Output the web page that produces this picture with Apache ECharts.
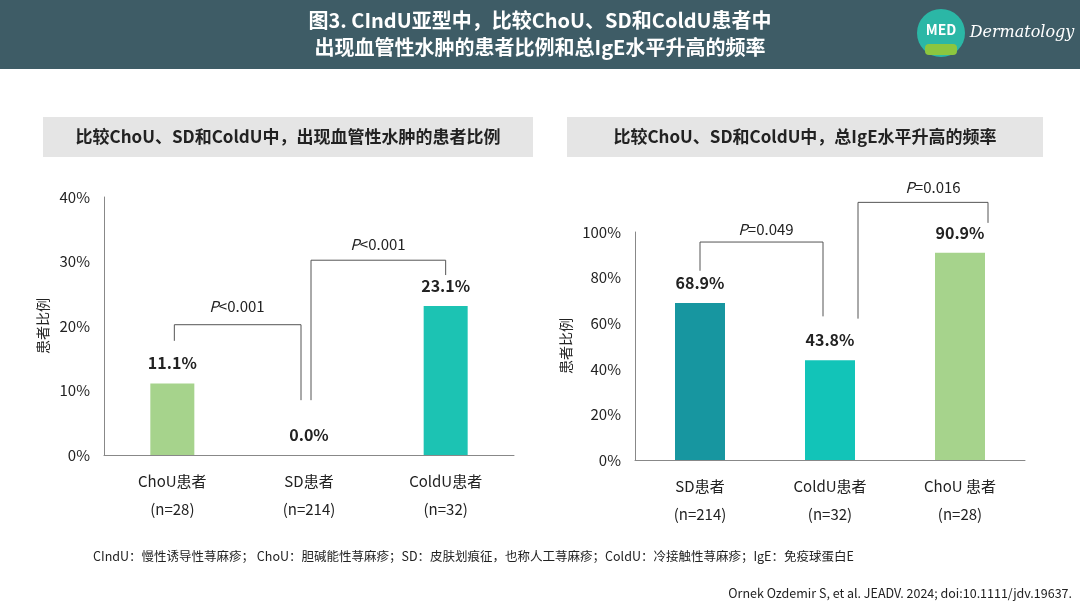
<!DOCTYPE html><html><head><meta charset="utf-8">
<script src="https://cdn.jsdelivr.net/npm/echarts@6/dist/echarts.min.js"></script>
<style>html,body{margin:0;padding:0;background:#fff}#c{width:1080px;height:608px}</style></head><body><div id="c"></div>
<script>
const leftCats=['ChoU患者\n(n=28)','SD患者\n(n=214)','ColdU患者\n(n=32)'];
const leftVals=[11.1,0.0,23.1];
const leftColors=['#a6d38c','#a6d38c','#1cc3b3'];
const rightCats=['SD患者\n(n=214)','ColdU患者\n(n=32)','ChoU 患者\n(n=28)'];
const rightVals=[68.9,43.8,90.9];
const rightColors=['#1796a0','#12c4b8','#a6d38c'];
// brackets: points [categoryIndex, value, pixelOffsetX]
const leftBrackets=[
 [[0,17.7,2],[0,20.2,2],[1,20.2,-8],[1,8.5,-8]],
 [[1,8.5,2],[1,30.2,2],[2,30.2,0],[2,27.9,0]]
];
const rightBrackets=[
 [[0,83,0],[0,95.6,0],[1,95.6,-7],[1,63,-7]],
 [[1,62,28],[1,113,28],[2,113,28],[2,104,28]]
];
const ff='"Noto Sans CJK SC","Noto Sans",sans-serif';
function bracketSeries(data,xi){
 return {type:'custom',xAxisIndex:xi,yAxisIndex:xi,clip:false,silent:true,z:5,
  data:data.map((b,i)=>i),
  renderItem:(p,api)=>{const b=data[api.value(0)];
   const pts=b.map(q=>{const c=api.coord([q[0],q[1]]);return [c[0]+q[2],c[1]];});
   return {type:'polyline',shape:{points:pts},style:{stroke:'#555',lineWidth:1,fill:null}};},
  encode:{x:0,y:0}};
}
const axisLab={fontSize:15,color:'#222',fontFamily:ff,lineHeight:28};
const chart=echarts.init(document.getElementById('c'));
chart.setOption({
 animation:false,
 grid:[{left:104,top:197,width:410,height:258},{left:635,top:232,width:390,height:228}],
 xAxis:[
  {gridIndex:0,type:'category',data:leftCats,axisTick:{show:false},axisLine:{lineStyle:{color:'#888'}},axisLabel:Object.assign({margin:12},axisLab)},
  {gridIndex:1,type:'category',data:rightCats,axisTick:{show:false},axisLine:{lineStyle:{color:'#888'}},axisLabel:Object.assign({margin:12},axisLab)}
 ],
 yAxis:[
  {gridIndex:0,type:'value',min:0,max:40,interval:10,splitLine:{show:false},axisLine:{show:true,lineStyle:{color:'#888'}},axisTick:{show:false},
   axisLabel:{formatter:'{value}%',fontSize:15,color:'#222',fontFamily:ff,margin:14},
   name:'患者比例',nameLocation:'middle',nameGap:54,nameTextStyle:{fontSize:14,color:'#222',fontFamily:ff}},
  {gridIndex:1,type:'value',min:0,max:100,interval:20,splitLine:{show:false},axisLine:{show:true,lineStyle:{color:'#888'}},axisTick:{show:false},
   axisLabel:{formatter:'{value}%',fontSize:15,color:'#222',fontFamily:ff,margin:14},
   name:'患者比例',nameLocation:'middle',nameGap:62,nameTextStyle:{fontSize:14,color:'#222',fontFamily:ff}}
 ],
 series:[
  {type:'bar',xAxisIndex:0,yAxisIndex:0,barWidth:44,
   data:leftVals.map((v,i)=>({value:v,itemStyle:{color:leftColors[i]}})),
   label:{show:true,position:'top',distance:12,formatter:p=>Number(p.value).toFixed(1)+'%',fontSize:16,fontWeight:'bold',color:'#222',fontFamily:ff}},
  {type:'bar',xAxisIndex:1,yAxisIndex:1,barWidth:50,
   data:rightVals.map((v,i)=>({value:v,itemStyle:{color:rightColors[i]}})),
   label:{show:true,position:'top',distance:12,formatter:p=>Number(p.value).toFixed(1)+'%',fontSize:16,fontWeight:'bold',color:'#222',fontFamily:ff}},
  bracketSeries(leftBrackets,0),
  bracketSeries(rightBrackets,1)
 ],
 graphic:[
  {type:'rect',shape:{x:0,y:0,width:1080,height:69},style:{fill:'#3e5c66'}},
  {type:'text',x:540,y:20,style:{text:'图3. CIndU亚型中，比较ChoU、SD和ColdU患者中',fill:'#fff',font:'bold 20px '+ff,align:'center',verticalAlign:'middle'}},
  {type:'text',x:540,y:47,style:{text:'出现血管性水肿的患者比例和总IgE水平升高的频率',fill:'#fff',font:'bold 20px '+ff,align:'center',verticalAlign:'middle'}},
  {type:'circle',shape:{cx:941,cy:33,r:24},style:{fill:'#2bb7a6'}},
  {type:'rect',shape:{x:925,y:44,width:32,height:11,r:4},style:{fill:'#8cc63f'}},
  {type:'text',x:941,y:30,style:{text:'MED',fill:'#fff',font:'bold 14px '+ff,align:'center',verticalAlign:'middle'}},
  {type:'text',x:1022,y:33,style:{text:'Dermatology',fill:'#fff',font:'italic 16px "DejaVu Serif",serif',align:'center',verticalAlign:'middle'}},
  {type:'rect',shape:{x:43,y:117,width:490,height:40},style:{fill:'#e5e5e5'}},
  {type:'text',x:288,y:137,style:{text:'比较ChoU、SD和ColdU中，出现血管性水肿的患者比例',fill:'#222',font:'bold 17px '+ff,align:'center',verticalAlign:'middle'}},
  {type:'rect',shape:{x:567,y:117,width:476,height:40},style:{fill:'#e5e5e5'}},
  {type:'text',x:805,y:137,style:{text:'比较ChoU、SD和ColdU中，总IgE水平升高的频率',fill:'#222',font:'bold 17px '+ff,align:'center',verticalAlign:'middle'}},
  {type:'text',x:237,y:306,style:{text:'{i|P}<0.001',rich:{i:{fontStyle:'italic',fontSize:15,fontFamily:ff,fill:'#222'}},fill:'#222',font:'15px '+ff,align:'center',verticalAlign:'middle'}},
  {type:'text',x:378,y:244,style:{text:'{i|P}<0.001',rich:{i:{fontStyle:'italic',fontSize:15,fontFamily:ff,fill:'#222'}},fill:'#222',font:'15px '+ff,align:'center',verticalAlign:'middle'}},
  {type:'text',x:766,y:229,style:{text:'{i|P}=0.049',rich:{i:{fontStyle:'italic',fontSize:15,fontFamily:ff,fill:'#222'}},fill:'#222',font:'15px '+ff,align:'center',verticalAlign:'middle'}},
  {type:'text',x:933,y:187,style:{text:'{i|P}=0.016',rich:{i:{fontStyle:'italic',fontSize:15,fontFamily:ff,fill:'#222'}},fill:'#222',font:'15px '+ff,align:'center',verticalAlign:'middle'}},
  {type:'text',x:93,y:556,style:{text:'CIndU：慢性诱导性荨麻疹； ChoU：胆碱能性荨麻疹；SD：皮肤划痕征，也称人工荨麻疹；ColdU：冷接触性荨麻疹；IgE：免疫球蛋白E',fill:'#222',font:'12.5px '+ff,verticalAlign:'middle'}},
  {type:'text',x:1072,y:593,style:{text:'Ornek Ozdemir S, et al. JEADV. 2024; doi:10.1111/jdv.19637.',fill:'#222',font:'12.5px '+ff,align:'right',verticalAlign:'middle'}}
 ]
});
</script></body></html>
